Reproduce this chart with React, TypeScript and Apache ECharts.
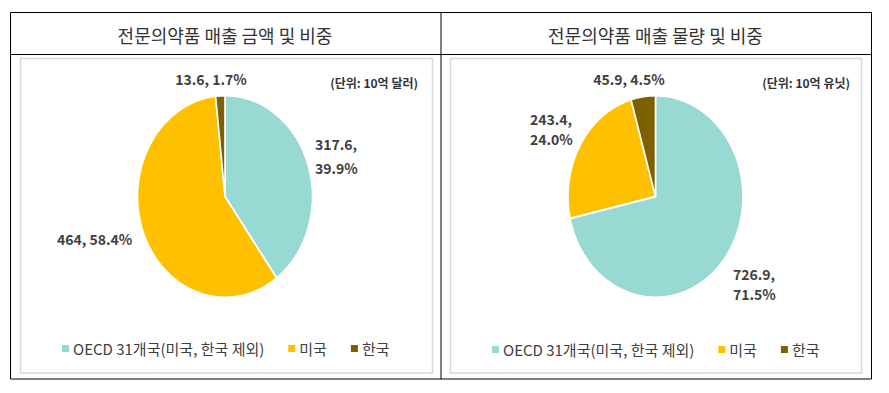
import React, { useEffect, useRef } from "react";
import * as echarts from "echarts";

const categories = ["OECD 31개국(미국, 한국 제외)", "미국", "한국"];
const salesAmount = [317.6, 464, 13.6]; // 10억 달러
const salesVolume = [726.9, 243.4, 45.9]; // 10억 유닛
const sliceColors = ["#99D9D4", "#FFC000", "#7F6000"];
const titles = ["전문의약품 매출 금액 및 비중", "전문의약품 매출 물량 및 비중"];
const unitLabels = ["(단위: 10억 달러)", "(단위: 10억 유닛)"];

const W = 889;
const H = 393;
const PIE_CY = 196.5;
const PIE_R = 87.5;
const PIE_SCALE_Y = 1.154;
const pieCenters = [225, 655.5];

const FONT = "'Noto Sans CJK KR', 'Noto Sans', sans-serif";

function pct(values: number[], i: number) {
  const sum = values.reduce((a, b) => a + b, 0);
  return ((values[i] / sum) * 100).toFixed(1);
}

function pieSeries(values: number[], cx: number, radius: number | number[], withBorder: boolean) {
  return {
    type: "pie",
    center: [cx, PIE_CY],
    radius,
    startAngle: 90,
    clockwise: true,
    silent: true,
    label: { show: false },
    labelLine: { show: false },
    emphasis: { disabled: true },
    itemStyle: withBorder ? { borderColor: "#ffffff", borderWidth: 1.6 } : {},
    data: categories.map((name, i) => ({
      name,
      value: values[i],
      itemStyle: { color: sliceColors[i] },
    })),
  };
}

export default function App() {
  const pieRef = useRef<HTMLDivElement>(null);
  const mainRef = useRef<HTMLDivElement>(null);

  useEffect(() => {
    const pieChart = echarts.init(pieRef.current!, null, { renderer: "svg" });
    pieChart.setOption({
      animation: false,
      series: [
        pieSeries(salesAmount, pieCenters[0], PIE_R, true),
        pieSeries(salesVolume, pieCenters[1], PIE_R, true),
      ],
    });

    const main = echarts.init(mainRef.current!, null, { renderer: "svg" });

    const labelStyle = (text: string, x: number, y: number, align: string, lh: number) => ({
      type: "text",
      x,
      y,
      silent: true,
      style: {
        text,
        fill: "#404040",
        font: `bold 14px ${FONT}`,
        textAlign: align,
        textVerticalAlign: "top",
        lineHeight: lh,
      },
    });

    const a = salesAmount;
    const v = salesVolume;

    const legendCommon = {
      orient: "horizontal",
      icon: "rect",
      itemWidth: 7,
      itemHeight: 7,
      itemGap: 24,
      selectedMode: false,
      textStyle: { fontSize: 15, color: "#404040", fontFamily: FONT, padding: [0, 0, 0, -1] },
      data: categories,
    };

    main.setOption({
      animation: false,
      legend: [
        { ...legendCommon, left: 57, top: 336 },
        { ...legendCommon, left: 487, top: 337 },
      ],
      series: [
        pieSeries(salesAmount, pieCenters[0], 0, false),
        pieSeries(salesVolume, pieCenters[1], 0, false),
      ],
      graphic: [
        // outer table
        { type: "rect", shape: { x: 10.5, y: 12.5, width: 861, height: 366.5 }, style: { fill: "none", stroke: "#000", lineWidth: 1 }, silent: true },
        { type: "line", shape: { x1: 441, y1: 12.5, x2: 441, y2: 379 }, style: { stroke: "#000", lineWidth: 1 }, silent: true },
        { type: "line", shape: { x1: 10.5, y1: 54.5, x2: 871.5, y2: 54.5 }, style: { stroke: "#000", lineWidth: 1 }, silent: true },
        // inner chart frames
        { type: "rect", shape: { x: 20.5, y: 58.5, width: 412, height: 314.5 }, style: { fill: "none", stroke: "#d9d9d9", lineWidth: 1.5 }, silent: true },
        { type: "rect", shape: { x: 450.5, y: 58.5, width: 411, height: 314.5 }, style: { fill: "none", stroke: "#d9d9d9", lineWidth: 1.5 }, silent: true },
        // titles
        ...titles.map((t, i) => ({
          type: "text",
          x: [225, 655.5][i],
          y: 35,
          silent: true,
          style: { text: t, fill: "#333", font: `18px ${FONT}`, textAlign: "center", textVerticalAlign: "middle" },
        })),
        // units
        ...unitLabels.map((t, i) => ({
          type: "text",
          x: [418, 850][i],
          y: 82,
          silent: true,
          style: { text: t, fill: "#333", font: `bold 12px ${FONT}`, textAlign: "right", textVerticalAlign: "middle" },
        })),
        // data labels: left pie
        labelStyle(`${a[2]}, ${pct(a, 2)}%`, 211, 70, "center", 18),
        labelStyle(`${a[0]},\n${pct(a, 0)}%`, 315, 132, "left", 24),
        labelStyle(`${a[1]}, ${pct(a, 1)}%`, 57, 230, "left", 18),
        // data labels: right pie
        labelStyle(`${v[2]}, ${pct(v, 2)}%`, 629, 70, "center", 18),
        labelStyle(`${v[1]},\n${pct(v, 1)}%`, 530, 109, "left", 20),
        labelStyle(`${v[0]},\n${pct(v, 0)}%`, 733, 264, "left", 20),
      ],
    });

    return () => {
      pieChart.dispose();
      main.dispose();
    };
  }, []);

  return (
    <div style={{ position: "fixed", left: 0, top: 0, width: W, height: H, background: "#fff", overflow: "hidden" }}>
      <div
        ref={pieRef}
        style={{
          position: "absolute",
          left: 0,
          top: 0,
          width: W,
          height: H,
          transform: `scaleY(${PIE_SCALE_Y})`,
          transformOrigin: `0 ${PIE_CY}px`,
        }}
      />
      <div ref={mainRef} style={{ position: "absolute", left: 0, top: 0, width: W, height: H }} />
    </div>
  );
}
